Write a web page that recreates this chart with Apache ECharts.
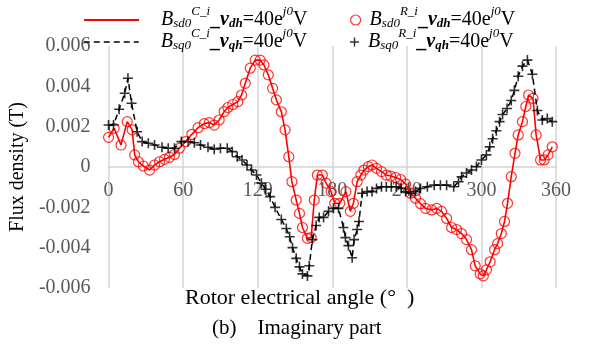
<!DOCTYPE html>
<html>
<head>
<meta charset="utf-8">
<script src="https://cdn.jsdelivr.net/npm/echarts@6/dist/echarts.min.js"></script>
<style>
  html, body { margin: 0; padding: 0; background: #fff; }
  #chart { width: 592px; height: 347px; }
</style>
</head>
<body>
<div id="chart"></div>
<script>
// d-axis flux density (T) vs rotor angle
const angleDh = [0, 4.5, 10, 15, 19, 21, 24, 28, 33, 37, 41, 45, 49, 53, 57, 62, 67, 72, 77, 81,
  85, 89, 93, 96, 100, 104, 107, 110, 114, 118, 122, 125, 128.5, 132, 135, 139, 142, 145, 147.5, 151,
  153.6, 156, 160, 163, 165.5, 168, 172, 175, 179, 182, 186, 191, 194.5, 197, 200, 203, 205.5, 209, 212, 215.6,
  219.6, 223.5, 227, 231, 235, 239, 243, 247, 251, 255, 260, 264, 268, 272, 276, 280, 284, 288, 292, 295,
  299, 301.5, 304, 307, 310.6, 313, 316, 318.6, 321, 324, 327, 329.6, 333, 335.7, 338, 341.5, 344, 347.6, 350.5, 353.6, 357]
const fluxDh = [0.00147, 0.00192, 0.00109, 0.00225, 0.00184, 0.0006, 0.00026, 0.00005, -0.00015, 0.0001,
  0.00026, 0.00038, 0.00048, 0.00062, 0.00093, 0.00126, 0.00162, 0.00195, 0.00215, 0.0022,
  0.00208, 0.00233, 0.00275, 0.00295, 0.0031, 0.00324, 0.00357, 0.00415, 0.0049, 0.0053,
  0.0053, 0.00506, 0.00457, 0.0039, 0.00333, 0.00274, 0.00184, 0.00051, -0.00073, -0.00164,
  -0.0023, -0.003, -0.00354, -0.0035, -0.00164, -0.0004, -0.0004, -0.0008, -0.00122, -0.0018,
  -0.0018, -0.00122, -0.0022, -0.0018, -0.00073, -0.0004, -0.00015, 0.00002, 0.0001, -0.00007,
  -0.00023, -0.0004, -0.00045, -0.00052, -0.00062, -0.00085, -0.0013, -0.00155, -0.00182, -0.00205,
  -0.00213, -0.00205, -0.0022, -0.00255, -0.003, -0.0031, -0.0033, -0.0036, -0.0041, -0.0049,
  -0.0053, -0.0054, -0.0051, -0.0047, -0.0041, -0.0038, -0.0033, -0.0027, -0.0018, -0.00048,
  0.00068, 0.00159, 0.00225, 0.003, 0.00357, 0.0034, 0.00159, 0.00035, 0.00035, 0.0006, 0.001]

// q-axis
const angleQh = [0, 4, 8.5, 13, 15.6, 18.5, 23, 27, 32, 37, 43, 48, 53, 58.6, 64, 69, 74, 80, 85, 90,
  95.5, 99.5, 103.5, 107.4, 111.4, 115, 119, 123, 126.5, 130, 134, 139, 143, 145.7, 148, 151, 153.6, 156, 160, 161.5,
  164, 167, 169.5, 173, 177, 181, 185, 189, 190.6, 193, 196, 197.5, 200, 201.5, 204, 208, 212, 215.6, 219.6, 223.5,
  227.5, 231.4, 235.4, 239, 243, 247, 251, 256.5, 262, 267, 272, 277.7, 281.6, 284, 288, 292, 296, 300, 304, 306.7,
  309, 312, 314.6, 317, 320.6, 324, 326.5, 329.6, 333, 337, 341, 345, 349, 353, 357]
const fluxQh = [0.00208, 0.00208, 0.00286, 0.00366, 0.0044, 0.00316, 0.00175, 0.00126, 0.00118, 0.00109,
  0.00098, 0.00093, 0.00093, 0.00126, 0.00126, 0.0012, 0.00109, 0.00098, 0.00088, 0.00093,
  0.00093, 0.00076, 0.00051, 0.00035, 0.0001, -0.00015, -0.0004, -0.0008, -0.0011, -0.00147,
  -0.002, -0.0026, -0.00305, -0.00346, -0.004, -0.00453, -0.00495, -0.0053, -0.0054, -0.0049,
  -0.0036, -0.0029, -0.0025, -0.0025, -0.0022, -0.00205, -0.00205, -0.003, -0.0035, -0.0039,
  -0.0045, -0.0036, -0.0031, -0.0027, -0.0013, -0.00122, -0.00122, -0.00106, -0.00098, -0.00098,
  -0.00098, -0.00098, -0.00106, -0.00122, -0.0013, -0.00122, -0.00106, -0.00098, -0.0009, -0.0009,
  -0.0009, -0.00098, -0.00073, -0.00048, -0.0003, -0.00015, 0.00002, 0.00035, 0.0006, 0.001,
  0.0014, 0.0018, 0.00225, 0.0026, 0.0029, 0.0033, 0.0038, 0.0045, 0.005, 0.0053,
  0.0046, 0.0028, 0.00233, 0.0024, 0.00225]

const xTicks = [0, 60, 120, 180, 240, 300, 360]
const yRange = [-0.006, 0.006]

const seriesNames = ['C_dh', 'C_qh', 'R_dh', 'R_qh']
const legendText = {
  C_dh: '{gap| }{it|B}{sub|sd0}{sup|C_i}{bd|_}{bi|v}{bsub|dh}{rm|=40e}{sup|j0}{rm|V}',
  C_qh: '{gap| }{it|B}{sub|sq0}{sup|C_i}{bd|_}{bi|v}{bsub|qh}{rm|=40e}{sup|j0}{rm|V}',
  R_dh: '{gap2| }{it|B}{sub|sd0}{sup|R_i}{bd|_}{bi|v}{bsub|dh}{rm|=40e}{sup|j0}{rm|V}',
  R_qh: '{gap2| }{it|B}{sub|sq0}{sup|R_i}{bd|_}{bi|v}{bsub|qh}{rm|=40e}{sup|j0}{rm|V}'
}

const SERIF = '"Liberation Serif", "DejaVu Serif", serif'
const PLUS = 'path://M4.2,0h1.6v4.2h4.2v1.6h-4.2v4.2h-1.6v-4.2h-4.2v-1.6h4.2z'

function pairs(xs, ys) {
  return xs.map(function(x, i) { return [x, ys[i]] })
}

// subscripts pushed down with top padding, superscripts pinned to the line top
const richStyle = {
  gap: { width: 17, fontSize: 20, lineHeight: 30 },
  gap2: { width: 4, fontSize: 20, lineHeight: 30 },
  it: { fontFamily: SERIF, fontStyle: 'italic', fontSize: 20, lineHeight: 30, color: '#000' },
  rm: { fontFamily: SERIF, fontSize: 20, lineHeight: 30, color: '#000' },
  bd: { fontFamily: SERIF, fontWeight: 'bold', fontSize: 20, lineHeight: 30, color: '#000' },
  bi: { fontFamily: SERIF, fontStyle: 'italic', fontWeight: 'bold', fontSize: 20, lineHeight: 30, color: '#000' },
  sub: { fontFamily: SERIF, fontStyle: 'italic', fontSize: 13, padding: [7, 0, 0, 0], color: '#000' },
  bsub: { fontFamily: SERIF, fontStyle: 'italic', fontWeight: 'bold', fontSize: 13, padding: [7, 0, 0, 0], color: '#000' },
  sup: { fontFamily: SERIF, fontStyle: 'italic', fontSize: 13, lineHeight: 16, verticalAlign: 'top', color: '#000' }
}

function makeLegend(name, left, top, extra) {
  return Object.assign({
    data: [name],
    left: left,
    top: top,
    padding: 0,
    formatter: function(n) { return legendText[n] },
    textStyle: { rich: richStyle },
    selectedMode: false
  }, extra)
}

const chart = echarts.init(document.getElementById('chart'))
chart.setOption({
  animation: false,
  backgroundColor: '#fff',
  grid: { left: 101, right: 36, top: 46, bottom: 59 },
  legend: [
    makeLegend('C_dh', 83, 5, {
      itemWidth: 55, itemHeight: 14,
      lineStyle: { color: '#ff0000', width: 2 }, itemStyle: { opacity: 0 }
    }),
    makeLegend('C_qh', 83, 27, {
      itemWidth: 55, itemHeight: 14,
      lineStyle: { color: '#000', width: 1.5, type: [6, 4] }, itemStyle: { opacity: 0 }
    }),
    makeLegend('R_dh', 350, 5, {
      itemWidth: 10, itemHeight: 10,
      data: [{ name: 'R_dh', icon: 'circle' }],
      itemStyle: { color: 'rgba(0,0,0,0)', borderColor: '#ff0000', borderWidth: 1.2 }
    }),
    makeLegend('R_qh', 350, 27, {
      itemWidth: 9, itemHeight: 9,
      data: [{ name: 'R_qh', icon: PLUS }],
      itemStyle: { color: '#000', borderWidth: 0 }
    })
  ],
  xAxis: {
    type: 'value',
    min: xTicks[0],
    max: xTicks[xTicks.length - 1],
    interval: 60,
    // axis sits on the zero line, half the plot height above the bottom
    offset: -121,
    axisLine: { onZero: false, lineStyle: { color: '#d4d4d4', width: 1.5 } },
    axisTick: { show: false },
    axisLabel: { margin: 14, color: '#595959', fontFamily: SERIF, fontSize: 20 },
    splitLine: { show: true, lineStyle: { color: '#d4d4d4', width: 1.5 } }
  },
  yAxis: {
    type: 'value',
    min: yRange[0],
    max: yRange[1],
    interval: 0.002,
    name: 'Flux density (T)',
    nameLocation: 'middle',
    nameGap: 66,
    nameTextStyle: { color: '#000', fontFamily: SERIF, fontSize: 20 },
    axisLine: { show: false },
    axisTick: { show: false },
    splitLine: { show: false },
    axisLabel: {
      margin: 18,
      color: '#595959',
      fontFamily: SERIF,
      fontSize: 20,
      formatter: function(v) { return Math.abs(v) < 1e-9 ? '0' : v.toFixed(3) }
    }
  },
  graphic: [
    {
      type: 'text', left: 185, top: 287,
      style: { text: 'Rotor electrical angle (\u00b0  )', fill: '#000', font: '22px "Liberation Serif", serif' }
    },
    {
      type: 'text', left: 212, top: 318,
      style: { text: '(b)    Imaginary part', fill: '#000', font: '21px "Liberation Serif", serif' }
    }
  ],
  series: [
    {
      name: seriesNames[0], type: 'line', data: pairs(angleDh, fluxDh),
      symbol: 'none', lineStyle: { color: '#ff0000', width: 1.6 }, itemStyle: { color: '#ff0000' }, z: 2
    },
    {
      name: seriesNames[2], type: 'scatter', data: pairs(angleDh, fluxDh),
      symbol: 'circle', symbolSize: 10,
      itemStyle: { color: 'rgba(0,0,0,0)', borderColor: '#ff0000', borderWidth: 1.2 }, z: 3
    },
    {
      name: seriesNames[1], type: 'line', data: pairs(angleQh, fluxQh),
      symbol: 'none', lineStyle: { color: '#000', width: 1.5, type: [6, 4] }, itemStyle: { color: '#000' }, z: 4
    },
    {
      name: seriesNames[3], type: 'scatter', data: pairs(angleQh, fluxQh),
      symbol: PLUS, symbolSize: 10, itemStyle: { color: '#000' }, z: 5
    }
  ]
})
</script>
</body>
</html>
